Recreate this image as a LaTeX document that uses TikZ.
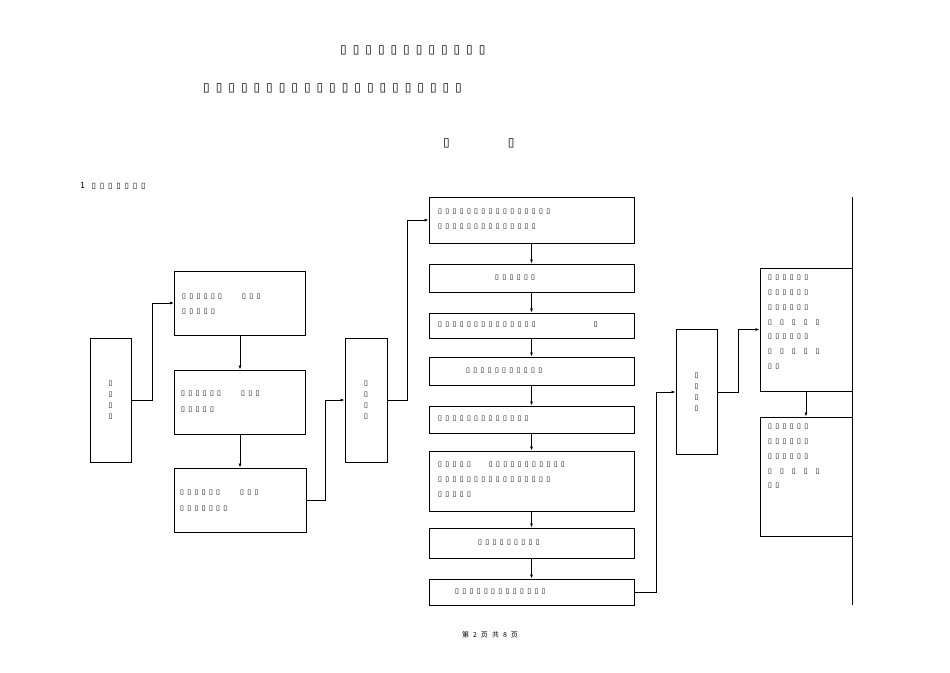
\documentclass[tikz,border=0pt]{standalone}
\usepackage{fontspec}
\setmainfont{DejaVu Sans}
\newfontfamily\tofu{DejaVu Sans}[LetterSpace=48]
\newfontfamily\tofuT{DejaVu Sans}[LetterSpace=50]
\newfontfamily\cjk{Noto Sans CJK SC}
\usetikzlibrary{arrows.meta}
\begin{document}
\begin{tikzpicture}[x=1pt,y=-1pt,
 bx/.style={draw,line width=0.9pt},
 ar/.style={-{Latex[length=4pt,width=3pt]},line width=0.8pt},
 t/.style={anchor=west,inner sep=0,font=\tofu\fontsize{7}{11}\selectfont},
 tt/.style={anchor=west,inner sep=0,font=\tofuT\fontsize{12}{14}\selectfont}]
\useasboundingbox (0,0) rectangle (950,672);
\node[tt] (h1) at (340,50) {▯▯▯▯▯▯▯▯▯▯▯▯};
\node[tt] (h2) at (203,88) {▯▯▯▯▯▯▯▯▯▯▯▯▯▯▯▯▯▯▯▯▯};
\node[tt] (h3) at (443,143) {▯\hspace{58pt}▯};
\node[t,font=\tofu\fontsize{8}{11}\selectfont] (h4) at (80,186) {1 ▯▯▯▯▯▯▯};
% left column
\node[bx,minimum width=41,minimum height=124,inner sep=0] (L) at (110.5,400) {};
\node[t,anchor=center,align=center,font=\fontsize{7}{11}\selectfont] at (L) {▯\\▯\\▯\\▯};
\node[bx,minimum width=131,minimum height=64,inner sep=0] (B1) at (240,303) {};
\node[t] at (182,297) {▯▯▯▯▯▯\hspace{20pt}▯▯▯};
\node[t] at (182,312) {▯▯▯▯▯};
\node[bx,minimum width=131,minimum height=64,inner sep=0] (B2) at (240,402) {};
\node[t] at (181,394) {▯▯▯▯▯▯\hspace{20pt}▯▯▯};
\node[t] at (181,410) {▯▯▯▯▯};
\node[bx,minimum width=132,minimum height=64,inner sep=0] (B3) at (240,500) {};
\node[t] at (180,493) {▯▯▯▯▯▯\hspace{20pt}▯▯▯};
\node[t] at (180,509) {▯▯▯▯▯▯▯};
\node[bx,minimum width=42,minimum height=124,inner sep=0] (M) at (366,400) {};
\node[t,anchor=center,align=center,font=\fontsize{7}{11}\selectfont] at (M) {▯\\▯\\▯\\▯};
% right chain
\node[bx,minimum width=205,minimum height=46,inner sep=0] (R1) at (531.5,220) {};
\node[t] at (438,212) {▯▯▯▯▯▯▯▯▯▯▯▯▯▯▯▯};
\node[t] at (438,227) {▯▯▯▯▯▯▯▯▯▯▯▯▯▯};
\node[bx,minimum width=205,minimum height=28,inner sep=0] (R2) at (531.5,278) {};
\node[t] at (495,278) {▯▯▯▯▯▯};
\node[bx,minimum width=205,minimum height=25,inner sep=0] (R3) at (531.5,325.5) {};
\node[t] at (438,325) {▯▯▯▯▯▯▯▯▯▯▯▯▯▯\hspace{58pt}▯};
\node[bx,minimum width=205,minimum height=28,inner sep=0] (R4) at (531.5,371) {};
\node[t] at (466,371) {▯▯▯▯▯▯▯▯▯▯▯};
\node[bx,minimum width=205,minimum height=27,inner sep=0] (R5) at (531.5,419.5) {};
\node[t] at (438,419) {▯▯▯▯▯▯▯▯▯▯▯▯▯};
\node[bx,minimum width=205,minimum height=60,inner sep=0] (R6) at (531.5,481) {};
\node[t] at (438,465) {▯▯▯▯▯\hspace{18pt}▯▯▯▯▯▯▯▯▯▯▯};
\node[t] at (438,480) {▯▯▯▯▯▯▯▯▯▯▯▯▯▯▯▯};
\node[t] at (438,495) {▯▯▯▯▯};
\node[bx,minimum width=205,minimum height=30,inner sep=0] (R7) at (531.5,543) {};
\node[t] at (478,543) {▯▯▯▯▯▯▯▯▯};
\node[bx,minimum width=205,minimum height=26,inner sep=0] (R8) at (531.5,592) {};
\node[t] at (455,592) {▯▯▯▯▯▯▯▯▯▯▯▯▯};
% right side
\node[bx,minimum width=41,minimum height=125,inner sep=0] (T) at (696.5,392) {};
\node[t,anchor=center,align=center,font=\fontsize{7}{11}\selectfont] at (T) {▯\\▯\\▯\\▯};
\node[bx,minimum width=92,minimum height=123,inner sep=0] (F1) at (806,329.5) {};
\node[t,align=left,anchor=north west,font=\tofu\fontsize{7}{14.8}\selectfont] at (768,275) {▯▯▯▯▯▯\\▯▯▯▯▯▯\\▯▯▯▯▯▯\\▯\hspace{8pt}▯\hspace{8pt}▯\hspace{8pt}▯\hspace{8pt}▯\\▯▯▯▯▯▯\\▯\hspace{8pt}▯\hspace{8pt}▯\hspace{8pt}▯\hspace{8pt}▯\\▯▯};
\node[bx,minimum width=92,minimum height=119,inner sep=0] (F2) at (806,476.5) {};
\node[t,align=left,anchor=north west,font=\tofu\fontsize{7}{14.8}\selectfont] at (768,424) {▯▯▯▯▯▯\\▯▯▯▯▯▯\\▯▯▯▯▯▯\\▯\hspace{8pt}▯\hspace{8pt}▯\hspace{8pt}▯\hspace{8pt}▯\\▯▯};
\coordinate (v1) at (852,197); \coordinate (v2) at (852,605);
\draw[line width=0.8pt] (v1) -- (v2);
% connectors
\draw[ar] (L.east) -- (152,400) |- (B1.west);
\draw[ar] (B1.south) -- (B2.north);
\draw[ar] (B2.south) -- (B3.north);
\draw[ar] (B3.east) -- (325,500) |- (M.west);
\draw[ar] (M.east) -- (407,400) |- (R1.west);
\draw[ar] (R1.south) -- (R2.north);
\draw[ar] (R2.south) -- (R3.north);
\draw[ar] (R3.south) -- (R4.north);
\draw[ar] (R4.south) -- (R5.north);
\draw[ar] (R5.south) -- (R6.north);
\draw[ar] (R6.south) -- (R7.north);
\draw[ar] (R7.south) -- (R8.north);
\draw[ar] (R8.east) -- (656,592) |- (T.west);
\draw[ar] (T.east) -- (738,392) |- (F1.west);
\draw[ar] (F1.south) -- (F2.north);
\node[inner sep=0,font=\cjk\fontsize{7}{9}\selectfont] (ft) at (490,635) {第\hspace{4pt}2\hspace{4pt}页\hspace{4pt}共\hspace{4pt}8\hspace{4pt}页};
\end{tikzpicture}
\end{document}
